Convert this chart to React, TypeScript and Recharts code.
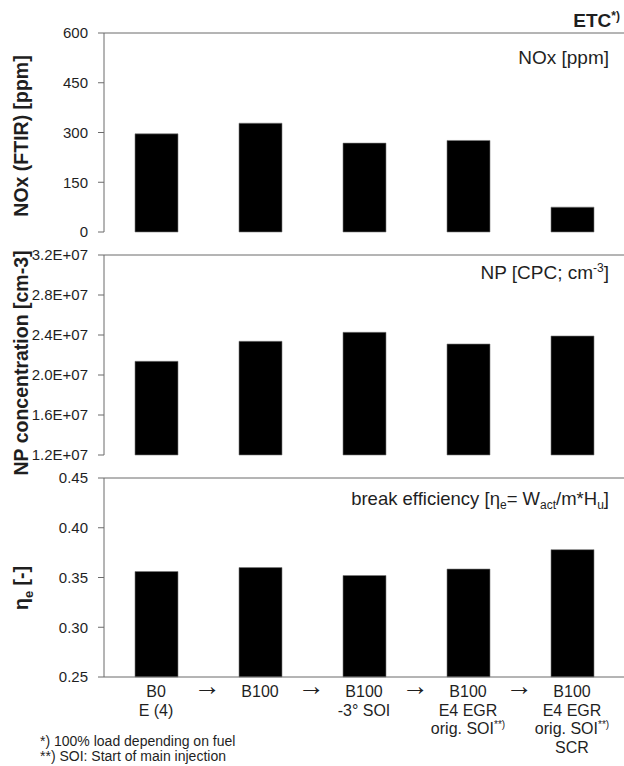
import React from 'react';
import { BarChart, Bar, XAxis, YAxis, ReferenceLine } from 'recharts';

// categories (x labels, one entry per line)
const categoryLines = [
   ['B0', 'E (4)'],
   ['B100'],
   ['B100', '-3° SOI'],
   ['B100', 'E4 EGR', 'orig. SOI**)'],
   ['B100', 'E4 EGR', 'orig. SOI**)', 'SCR'],
];

// series values
const noxPpm = [296, 328, 268, 276, 75];
const npConc = [2.137e7, 2.337e7, 2.427e7, 2.31e7, 2.39e7];
const breakEff = [0.356, 0.36, 0.352, 0.3585, 0.378];

const noxTicks = [0, 150, 300, 450, 600];
const npTicks = [1.2e7, 1.6e7, 2.0e7, 2.4e7, 2.8e7, 3.2e7];
const effTicks = [0.25, 0.3, 0.35, 0.4, 0.45];

const footnotes = ['*) 100% load depending on fuel', '**) SOI: Start of main injection'];

const FONT = '"Liberation Sans", Arial, sans-serif';
const AXIS = '#6b6b6b';
const TXT = '#1f1f1f';

const data = categoryLines.map((lines, i) => ({
   key: String(i),
   nox: noxPpm[i],
   np: npConc[i],
   eff: breakEff[i],
}));

const fmtExp = (v: number) => {
   const [m, e] = v.toExponential(1).split('e');
   return `${m}E${e[0]}${e.slice(1).padStart(2, '0')}`;
};

const tickStyle = { fontSize: 15, fill: TXT, fontFamily: FONT };

function SupLine({ text }: { text: string }) {
   if (text.endsWith('**)')) {
      return (
         <>
            {text.slice(0, -3)}
            <tspan fontSize={10} dy={-6}>**)</tspan>
         </>
      );
   }
   return <>{text}</>;
}

function CategoryTick(props: any) {
   const { x, y, payload } = props;
   const idx = payload.index;
   const lines = categoryLines[idx] || [];
   return (
      <g>
         {lines.map((l, j) => (
            <text
               key={j}
               x={x}
               y={y + 20 + j * 18.5}
               textAnchor="middle"
               fontSize={16}
               fontFamily={FONT}
               fill={TXT}
            >
               <SupLine text={l} />
            </text>
         ))}
         {idx < categoryLines.length - 1 && (
            <text x={x + 51} y={y + 18} textAnchor="middle" fontSize={27} fontFamily={FONT} fill={TXT}>
               →
            </text>
         )}
      </g>
   );
}

const wrap: React.CSSProperties = { position: 'absolute', left: 0, top: 0 };

const yAxisCommon = {
   width: 104,
   interval: 0 as const,
   tick: tickStyle,
   tickSize: 6,
   tickMargin: 10,
   tickLine: { stroke: AXIS },
   axisLine: { stroke: AXIS },
};

export default function App() {
   return (
      <div style={{ position: 'absolute', left: 0, top: 0, width: 624, height: 766, background: '#fff' }}>
         {/* NOx panel */}
         <div style={wrap}>
            <BarChart width={624} height={240} data={data} margin={{ top: 33, right: 0, bottom: 8, left: 0 }}>
               <XAxis dataKey="key" height={0} tick={false} tickLine={false} axisLine={{ stroke: AXIS }} />
               <YAxis {...yAxisCommon} domain={[0, 600]} ticks={noxTicks} />
               <ReferenceLine y={600} stroke={AXIS} />
               <Bar dataKey="nox" fill="#000" stroke="#7a7a7a" strokeWidth={0.6} barSize={43} isAnimationActive={false} />
            </BarChart>
         </div>

         {/* NP panel */}
         <div style={wrap}>
            <BarChart width={624} height={466} data={data} margin={{ top: 255, right: 0, bottom: 11, left: 0 }}>
               <XAxis dataKey="key" height={0} tick={false} tickLine={false} axisLine={{ stroke: AXIS }} />
               <YAxis {...yAxisCommon} domain={[1.2e7, 3.2e7]} ticks={npTicks} tickFormatter={fmtExp} />
               <ReferenceLine y={3.2e7} stroke={AXIS} />
               <Bar dataKey="np" fill="#000" stroke="#7a7a7a" strokeWidth={0.6} barSize={43} isAnimationActive={false} />
            </BarChart>
         </div>

         {/* efficiency panel */}
         <div style={wrap}>
            <BarChart width={624} height={766} data={data} margin={{ top: 478, right: 0, bottom: 0, left: 0 }}>
               <XAxis
                  dataKey="key"
                  height={89}
                  interval={0}
                  tickSize={0}
                  tickMargin={0}
                  tickLine={false}
                  axisLine={{ stroke: AXIS }}
                  tick={(p: any) => <CategoryTick {...p} />}
               />
               <YAxis
                  {...yAxisCommon}
                  domain={[0.25, 0.45]}
                  ticks={effTicks}
                  tickFormatter={(v: number) => v.toFixed(2)}
               />
               <ReferenceLine y={0.45} stroke={AXIS} />
               <Bar dataKey="eff" fill="#000" stroke="#7a7a7a" strokeWidth={0.6} barSize={43} isAnimationActive={false} />
            </BarChart>
         </div>

         {/* titles, panel labels, footnotes */}
         <svg width={624} height={766} style={{ ...wrap, pointerEvents: 'none' }} fontFamily={FONT}>
            <text x={620} y={27} textAnchor="end" fontSize={19} fontWeight="bold" fill={TXT}>
               ETC<tspan fontSize={12} dy={-7}>*)</tspan>
            </text>

            <text transform="translate(28,136) rotate(-90)" textAnchor="middle" fontSize={19.5} fontWeight="bold" fill={TXT}>
               NOx (FTIR) [ppm]
            </text>
            <text transform="translate(28,363) rotate(-90)" textAnchor="middle" fontSize={19.5} fontWeight="bold" fill={TXT}>
               NP concentration [cm-3]
            </text>
            <text transform="translate(28,588) rotate(-90)" textAnchor="middle" fontSize={19.5} fontWeight="bold" fill={TXT}>
               η<tspan fontSize={13} dy={5}>e</tspan>
               <tspan dy={-5}> [-]</tspan>
            </text>

            <text x={609} y={64} textAnchor="end" fontSize={19} fill={TXT}>
               NOx [ppm]
            </text>
            <text x={609} y={279} textAnchor="end" fontSize={19} fill={TXT}>
               NP [CPC; cm<tspan fontSize={12} dy={-7}>-3</tspan>
               <tspan dy={7}>]</tspan>
            </text>
            <text x={609} y={505} textAnchor="end" fontSize={18.5} fill={TXT}>
               break efficiency [η<tspan fontSize={12} dy={4}>e</tspan>
               <tspan dy={-4}>= W</tspan>
               <tspan fontSize={12} dy={4}>act</tspan>
               <tspan dy={-4}>/m*H</tspan>
               <tspan fontSize={12} dy={4}>u</tspan>
               <tspan dy={-4}>]</tspan>
            </text>

            {footnotes.map((f, i) => (
               <text key={i} x={40} y={746 + i * 15} fontSize={14} fill={TXT}>
                  {f}
               </text>
            ))}
         </svg>
      </div>
   );
}
